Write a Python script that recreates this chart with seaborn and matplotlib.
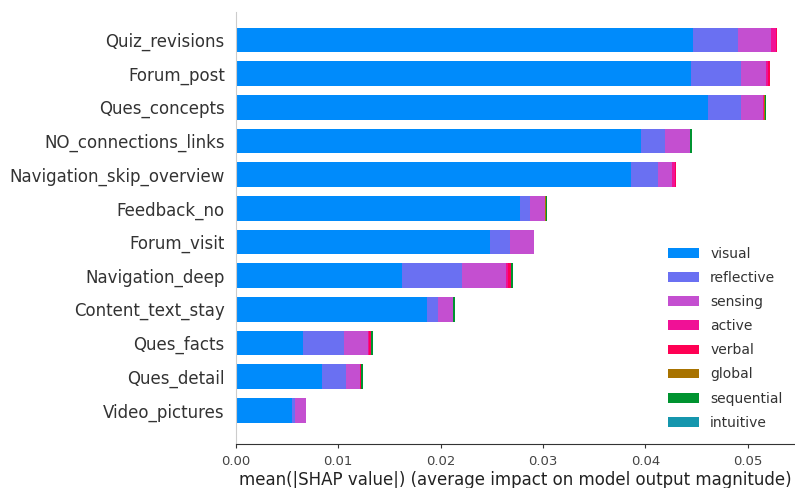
import numpy as np
import pandas as pd
import matplotlib
matplotlib.use("Agg")
import matplotlib.pyplot as plt
import seaborn as sns
from matplotlib.patches import Patch

features = ["Quiz_revisions", "Forum_post", "Ques_concepts", "NO_connections_links",
            "Navigation_skip_overview", "Feedback_no", "Forum_visit", "Navigation_deep",
            "Content_text_stay", "Ques_facts", "Ques_detail", "Video_pictures"]
classes = ["visual", "reflective", "sensing", "active", "verbal", "global", "sequential", "intuitive"]

visual     = [0.0446, 0.0444, 0.0461, 0.0396, 0.0386, 0.0277, 0.0248, 0.0162, 0.0187, 0.0066, 0.0084, 0.0055]
reflective = [0.0044, 0.0049, 0.0032, 0.0023, 0.0026, 0.0010, 0.0020, 0.0059, 0.0010, 0.0040, 0.0024, 0.0003]
sensing    = [0.0033, 0.0025, 0.0022, 0.0024, 0.0014, 0.0015, 0.0023, 0.0043, 0.0015, 0.0023, 0.0013, 0.0010]
active     = [0.0004, 0.0002, 0.0001, 0.0000, 0.0003, 0.0000, 0.0000, 0.0002, 0.0000, 0.0001, 0.0000, 0.0000]
verbal     = [0.0001, 0.0002, 0.0000, 0.0000, 0.0001, 0.0000, 0.0000, 0.0003, 0.0000, 0.0002, 0.0001, 0.0000]
global_    = [0.0000, 0.0000, 0.0001, 0.0000, 0.0000, 0.0001, 0.0000, 0.0000, 0.0000, 0.0000, 0.0000, 0.0000]
sequential = [0.0000, 0.0000, 0.0001, 0.0002, 0.0000, 0.0001, 0.0000, 0.0002, 0.0002, 0.0002, 0.0002, 0.0000]
intuitive  = [0.0000, 0.0000, 0.0000, 0.0000, 0.0000, 0.0000, 0.0000, 0.0000, 0.0000, 0.0000, 0.0000, 0.0000]

colors = ["#008bfb", "#6a70f2", "#c44fd0", "#f01196", "#ff0054", "#a87300", "#009330", "#1596ad"]
xlabel = "mean(|SHAP value|) (average impact on model output magnitude)"

series = [visual, reflective, sensing, active, verbal, global_, sequential, intuitive]
cum = np.cumsum(np.array(series), axis=0)

fig = plt.figure(figsize=(7.95, 4.88), dpi=100)
ax = fig.add_axes([0.2967, 0.0902, 0.7033, 0.8852])

for i in range(len(classes) - 1, -1, -1):
    df = pd.DataFrame({"feature": features, "value": cum[i]})
    sns.barplot(data=df, x="value", y="feature", orient="h", color=colors[i],
                saturation=1, width=0.73, linewidth=0, ax=ax, errorbar=None)

ax.set_xlim(0, 0.0546)
ax.set_ylim(12.0, -0.83)
ax.set_xticks([0, 0.01, 0.02, 0.03, 0.04, 0.05])
ax.set_xticklabels(["0.00", "0.01", "0.02", "0.03", "0.04", "0.05"])
ax.set_xlabel(xlabel, fontsize=12, color="#222222", labelpad=2)
ax.set_ylabel("")
ax.tick_params(axis="y", length=0, labelsize=12, labelcolor="#333333", pad=8)
ax.tick_params(axis="x", labelsize=9.5, labelcolor="#444444", color="#333333",
               length=3, pad=5)
for s in ["top", "right"]:
    ax.spines[s].set_visible(False)
ax.spines["left"].set_color("#cccccc")
ax.spines["bottom"].set_color("#333333")

handles = [Patch(facecolor=c, edgecolor="none", label=l) for c, l in zip(colors, classes)]
ax.legend(handles=handles, frameon=False, loc="lower right", bbox_to_anchor=(1.0, 0.004),
          fontsize=10, handlelength=2.2, handleheight=0.7, labelspacing=0.73,
          labelcolor="#333333")

fig.savefig("out.png", dpi=100)
